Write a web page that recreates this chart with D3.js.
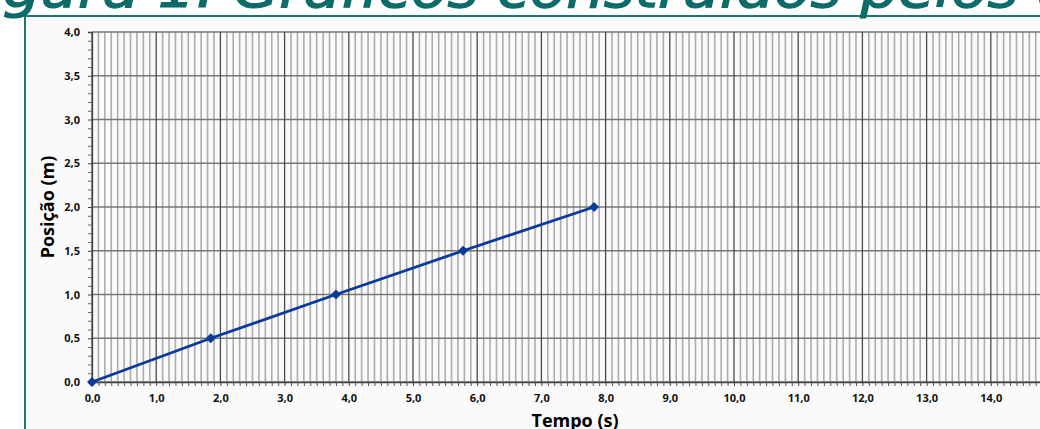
<!DOCTYPE html>
<html><head><meta charset="utf-8">
<script src="https://cdn.jsdelivr.net/npm/d3@7"></script>
<style>html,body{margin:0;padding:0;background:#fff;overflow:hidden}svg{display:block}</style>
</head><body>
<script>
// Data
const tempo = [0, 1.85, 3.80, 5.78, 7.82];
const posicao = [0, 0.5, 1.0, 1.5, 2.0];
const xTicks = [0,1,2,3,4,5,6,7,8,9,10,11,12,13,14];
const yTicks = [0,0.5,1.0,1.5,2.0,2.5,3.0,3.5,4.0];
const titleText = "Figura 1. Gráficos construídos pelos alunos";
const xLabel = "Tempo (s)";
const yLabel = "Posição (m)";

const W = 1040, H = 429;
const svg = d3.select("body").append("svg").attr("width", W).attr("height", H);

// frame / panel
svg.append("rect").attr("x", 25).attr("y", 16).attr("width", W - 25).attr("height", H - 16).attr("fill", "#fafafa");
svg.append("line").attr("x1", 24).attr("x2", W).attr("y1", 16).attr("y2", 16).attr("stroke", "#1a7773").attr("stroke-width", 2);
svg.append("line").attr("x1", 25).attr("x2", 25).attr("y1", 15).attr("y2", H).attr("stroke", "#1a7773").attr("stroke-width", 2);

// title (cropped at top)
svg.append("text").attr("transform", "translate(-48,7) scale(1.1,1)")
  .attr("font-family", "DejaVu Sans").attr("font-style", "italic").attr("font-size", 54)
  .attr("fill", "#0e6b68").attr("stroke", "#0e6b68").attr("stroke-width", 1.2).text(titleText);

const x = d3.scaleLinear().domain([0, 15]).range([92, 92 + 15 * 64.2]);
const y = d3.scaleLinear().domain([0, 4]).range([382, 32]);
const fmt = d => d.toFixed(1).replace(".", ",");

const g = svg.append("g");
// minor vertical grid (every 0.1)
const minorX = d3.range(0, 151).map(i => i / 10).filter(v => Math.abs(v - Math.round(v)) > 1e-6);
g.append("g").selectAll("line").data(minorX).join("line")
  .attr("x1", d => x(d)).attr("x2", d => x(d)).attr("y1", y(4)).attr("y2", y(0))
  .attr("stroke", "#adadad").attr("stroke-width", 1.6);
// horizontal grid
g.append("g").selectAll("line").data(yTicks).join("line")
  .attr("x1", x(0)).attr("x2", W).attr("y1", d => y(d)).attr("y2", d => y(d))
  .attr("stroke", "#777").attr("stroke-width", 1.6);
// major vertical grid
g.append("g").selectAll("line").data(d3.range(0, 16)).join("line")
  .attr("x1", d => x(d)).attr("x2", d => x(d)).attr("y1", y(4)).attr("y2", y(0))
  .attr("stroke", "#4a4a4a").attr("stroke-width", 1.3);

// x axis
const xAxis = d3.axisBottom(x).tickValues(xTicks).tickFormat(fmt).tickSize(4).tickPadding(8);
const xa = svg.append("g").attr("transform", `translate(0,${y(0)})`).call(xAxis);
xa.select(".domain").attr("stroke", "#444").attr("stroke-width", 1.3);
xa.selectAll(".tick line").attr("stroke", "#444");
// x minor ticks
svg.append("g").attr("transform", `translate(0,${y(0)})`)
  .call(d3.axisBottom(x).tickValues(minorX).tickSize(4).tickFormat(""))
  .call(s => s.select(".domain").remove())
  .selectAll(".tick line").attr("stroke", "#555");

// y axis
const yAxis = d3.axisLeft(y).tickValues(yTicks).tickFormat(fmt).tickSize(4).tickPadding(8);
const ya = svg.append("g").attr("transform", `translate(${x(0)},0)`).call(yAxis);
ya.select(".domain").attr("stroke", "#444").attr("stroke-width", 1.3);
ya.selectAll(".tick line").attr("stroke", "#444");
const minorY = d3.range(0, 41).map(i => i / 10).filter(v => Math.abs(v * 2 - Math.round(v * 2)) > 1e-6);
svg.append("g").attr("transform", `translate(${x(0)},0)`)
  .call(d3.axisLeft(y).tickValues(minorY).tickSize(4).tickFormat(""))
  .call(s => s.select(".domain").remove())
  .selectAll(".tick line").attr("stroke", "#666");

[xa, ya].forEach(a => a.selectAll(".tick text")
  .attr("font-family", "Open Sans").attr("font-weight", "bold").attr("font-size", 11).attr("fill", "#111"));

// axis titles
svg.append("text").attr("x", 575).attr("y", 427).attr("text-anchor", "middle")
  .attr("font-family", "Open Sans").attr("font-weight", "bold").attr("font-size", 18).attr("fill", "#000").text(xLabel);
svg.append("text").attr("transform", `translate(54,${y(2)}) rotate(-90)`).attr("text-anchor", "middle")
  .attr("font-family", "Open Sans").attr("font-weight", "bold").attr("font-size", 18).attr("fill", "#000").text(yLabel);

// series
const pts = tempo.map((t, i) => [t, posicao[i]]);
svg.append("path").datum(pts)
  .attr("d", d3.line().x(d => x(d[0])).y(d => y(d[1])))
  .attr("fill", "none").attr("stroke", "#0b3a98").attr("stroke-width", 2.8);
svg.append("g").selectAll("path").data(pts).join("path")
  .attr("transform", d => `translate(${x(d[0])},${y(d[1])}) rotate(45)`)
  .attr("d", d3.symbol(d3.symbolSquare, 50))
  .attr("fill", "#0b3a98");
</script>
</body></html>
